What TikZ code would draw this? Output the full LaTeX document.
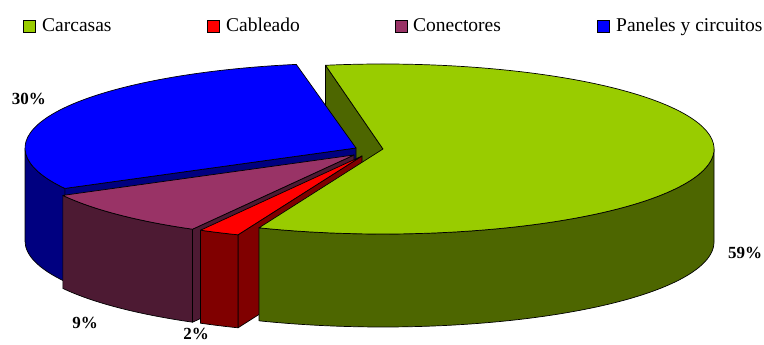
\documentclass[tikz,border=0pt]{standalone}
\usepackage{fontspec}
\setmainfont{Liberation Serif}
\usetikzlibrary{positioning}
\definecolor{carcasa}{HTML}{99CC00}
\definecolor{carcasaside}{HTML}{4D6600}
\definecolor{cable}{HTML}{FF0000}
\definecolor{cableside}{HTML}{800000}
\definecolor{conector}{HTML}{993366}
\definecolor{conectorside}{HTML}{4D1A33}
\definecolor{panel}{HTML}{0000FF}
\definecolor{panelside}{HTML}{000080}
\begin{document}
\begin{tikzpicture}[x=1pt, y=1pt,
    face/.style={draw=black, line width=0.7pt, line join=round},
    legbox/.style={draw, fill=#1, minimum size=12pt, inner sep=0pt, line width=0.8pt},
    legtext/.style={anchor=base west, inner sep=0pt, font=\fontsize{19.5}{22}\selectfont},
    pct/.style={anchor=base, inner sep=0pt, font=\fontsize{17}{20}\selectfont\bfseries}]

    \useasboundingbox (0,0) rectangle (764,345);

    \begin{scope}[shift={(383,196)}]
        \draw[face, fill=carcasaside] (0,0) -- (100:331 and 85) -- ++(0,-93) -- (0,-93) -- cycle;
    \end{scope}

    \begin{scope}[shift={(356,197)}]
        \draw[face, fill=panelside] (0,0) -- (208.4:331 and 85) -- ++(0,-93) -- (0,-93) -- cycle;
        \draw[face, fill=panelside] (180:331 and 85) arc[start angle=180, end angle=208.4, x radius=331, y radius=85] -- ++(0,-93) arc[start angle=208.4, end angle=180, x radius=331, y radius=85] -- cycle;
        \draw[face, fill=panel] (0,0) -- (100.4:331 and 85) arc[start angle=100.4, end angle=208.4, x radius=331, y radius=85] -- cycle;
    \end{scope}

    \begin{scope}[shift={(354,190)}]
        \draw[face, fill=conectorside] (0,0) -- (240.8:331 and 85) -- ++(0,-93) -- (0,-93) -- cycle;
        \draw[face, fill=conectorside] (208.4:331 and 85) arc[start angle=208.4, end angle=240.8, x radius=331, y radius=85] -- ++(0,-93) arc[start angle=240.8, end angle=208.4, x radius=331, y radius=85] -- cycle;
        \draw[face, fill=conector] (0,0) -- (208.4:331 and 85) arc[start angle=208.4, end angle=240.8, x radius=331, y radius=85] -- cycle;
    \end{scope}

    \begin{scope}[shift={(362,189)}]
        \draw[face, fill=cableside] (0,0) -- (248:331 and 85) -- ++(0,-93) -- (0,-93) -- cycle;
        \draw[face, fill=cableside] (240.8:331 and 85) arc[start angle=240.8, end angle=248, x radius=331, y radius=85] -- ++(0,-93) arc[start angle=248, end angle=240.8, x radius=331, y radius=85] -- cycle;
        \draw[face, fill=cable] (0,0) -- (240.8:331 and 85) arc[start angle=240.8, end angle=248, x radius=331, y radius=85] -- cycle;
    \end{scope}

    \begin{scope}[shift={(383,196)}]
        \draw[face, fill=carcasaside] (-112:331 and 85) arc[start angle=-112, end angle=0, x radius=331, y radius=85] -- ++(0,-93) arc[start angle=0, end angle=-112, x radius=331, y radius=85] -- cycle;
        \draw[face, fill=carcasa] (0,0) -- (-112:331 and 85) arc[start angle=-112, end angle=100, x radius=331, y radius=85] -- cycle;
    \end{scope}

    \node[pct] (p30) at (29,240) {30\%};
    \node[pct] (p59) at (745,86) {59\%};
    \node[pct] (p9) at (85,16) {9\%};
    \node[pct] (p2) at (196,5) {2\%};

    \node[legbox=carcasa] (b1) at (29,319) {};
    \node[legtext] (t1) at (42,313) {Carcasas};
    \node[legbox=cable] (b2) at (213,319) {};
    \node[legtext] (t2) at (226,313) {Cableado};
    \node[legbox=conector] (b3) at (401,319) {};
    \node[legtext] (t3) at (413,313) {Conectores};
    \node[legbox=panel] (b4) at (603,319) {};
    \node[legtext] (t4) at (616,313) {Paneles y circuitos};

\end{tikzpicture}
\end{document}
